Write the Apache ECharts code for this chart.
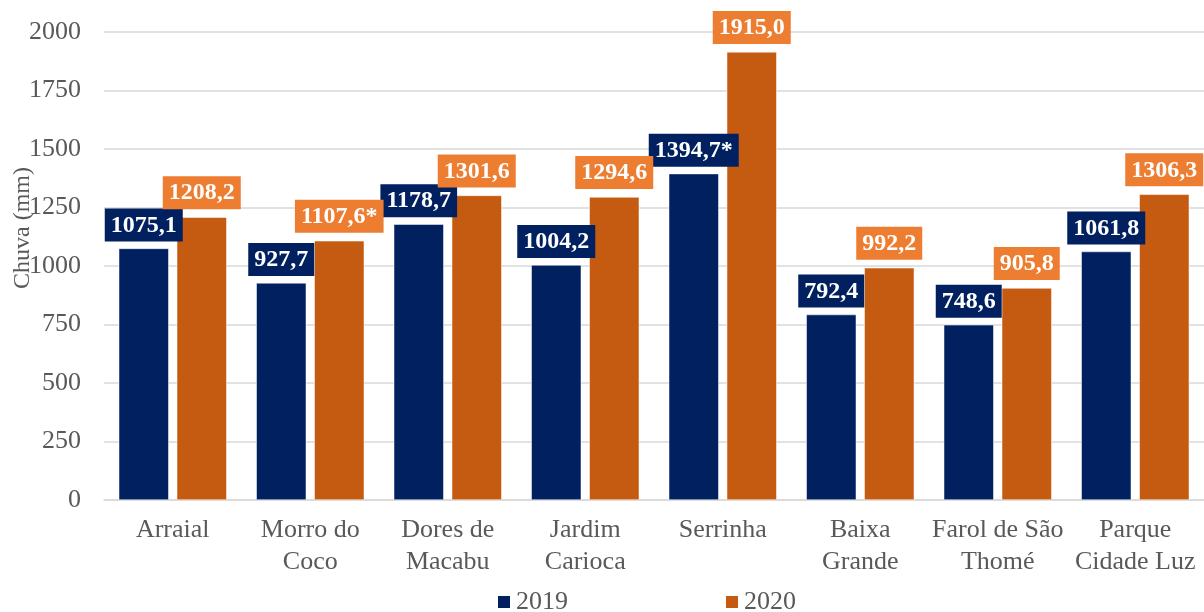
<!DOCTYPE html>
<html><head><meta charset="utf-8">
<script src="https://cdn.jsdelivr.net/npm/echarts@6/dist/echarts.min.js"></script>
<style>html,body{margin:0;padding:0;background:#fff}#c{width:1204px;height:612px}</style>
</head><body><div id="c"></div>
<script>
const categories = ['Arraial','Morro do\nCoco','Dores de\nMacabu','Jardim\nCarioca','Serrinha','Baixa\nGrande','Farol de São\nThomé','Parque\nCidade Luz'];
const values2019 = [1075.1, 927.7, 1178.7, 1004.2, 1394.7, 792.4, 748.6, 1061.8];
const values2020 = [1208.2, 1107.6, 1301.6, 1294.6, 1915.0, 992.2, 905.8, 1306.3];
const labels2019 = ['1075,1','927,7','1178,7','1004,2','1394,7*','792,4','748,6','1061,8'];
const labels2020 = ['1208,2','1107,6*','1301,6','1294,6','1915,0','992,2','905,8','1306,3'];
const yTicks = [0,250,500,750,1000,1250,1500,1750,2000];
const yAxisTitle = 'Chuva (mm)';

const font = '"Liberation Serif", "Times New Roman", serif';
const chart = echarts.init(document.getElementById('c'));
chart.setOption({
  animation: false,
  textStyle: {fontFamily: font},
  grid: {left: 104, right: 0, top: 32, bottom: 112, containLabel: false, outerBoundsMode: 'none'},
  graphic: [{
    type: 'text', x: 23, y: 228, rotation: Math.PI / 2,
    style: {text: yAxisTitle, font: '24px "Liberation Serif", serif', fill: '#595959', align: 'center', verticalAlign: 'middle'}
  }],
  legend: {
    left: 491, top: 584, itemWidth: 14, itemHeight: 14, itemGap: 156,
    icon: 'rect',
    textStyle: {fontFamily: font, fontSize: 26, color: '#595959', padding: [2,0,0,0]},
    data: ['2019','2020']
  },
  xAxis: {
    type: 'category', data: categories,
    axisLine: {lineStyle: {color: '#d9d9d9', width: 1.5}},
    axisTick: {show: false},
    axisLabel: {fontFamily: font, fontSize: 26, color: '#595959', lineHeight: 32, margin: 14, interval: 0}
  },
  yAxis: {
    type: 'value', min: yTicks[0], max: yTicks[yTicks.length-1], interval: 250,
    axisLine: {show: false}, axisTick: {show: false},
    axisLabel: {fontFamily: font, fontSize: 26, color: '#595959', margin: 23, formatter: v => String(v)},
    splitLine: {lineStyle: {color: '#d9d9d9', width: 1.5}}
  },
  series: [
    {
      name: '2019', type: 'bar', data: values2019, barWidth: 50, barGap: '16%',
      itemStyle: {color: '#002060', borderColor: '#ffffff', borderWidth: 0.5},
      label: {
        show: true, position: 'top', distance: 7,
        formatter: p => labels2019[p.dataIndex],
        fontFamily: font, fontSize: 24, fontWeight: 'bold', color: '#ffffff',
        backgroundColor: '#002060', padding: [5, 6, 4, 6]
      }
    },
    {
      name: '2020', type: 'bar', data: values2020, barWidth: 50,
      itemStyle: {color: '#C55A11', borderColor: '#ffffff', borderWidth: 0.5},
      label: {
        show: true, position: 'top', distance: 8,
        formatter: p => labels2020[p.dataIndex],
        fontFamily: font, fontSize: 24, fontWeight: 'bold', color: '#ffffff',
        backgroundColor: '#ED7D31', padding: [5, 6, 4, 6]
      }
    }
  ]
});
</script></body></html>
